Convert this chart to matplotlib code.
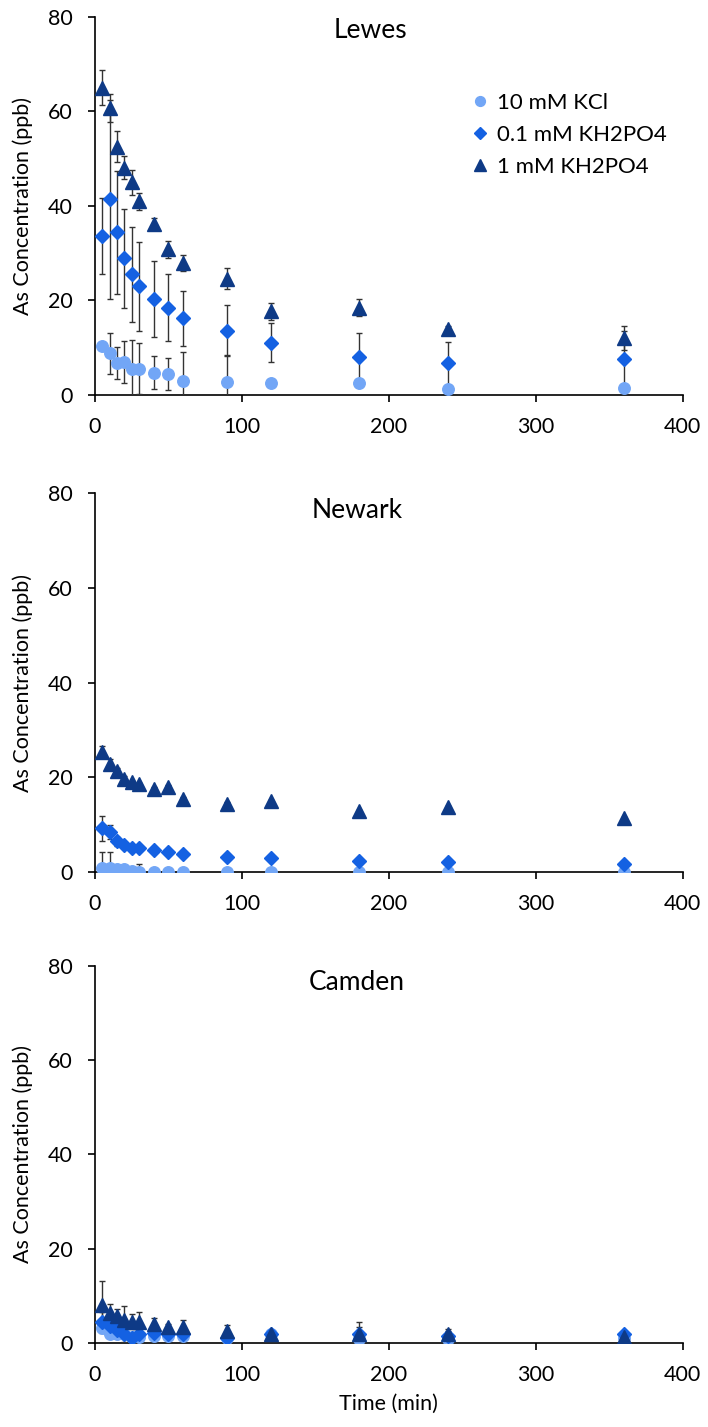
import matplotlib.pyplot as plt
from matplotlib.lines import Line2D
import numpy as np

plt.rcParams['font.family'] = ['Lato', 'DejaVu Sans']

time = [5, 10, 15, 20, 25, 30, 40, 50, 60, 90, 120, 180, 240, 360]
labels = ['10 mM KCl', '0.1 mM KH2PO4', '1 mM KH2PO4']
sites = ['Lewes', 'Newark', 'Camden']

# Lewes
lewes_kcl = [10.4, 8.8, 6.8, 7.0, 5.6, 5.6, 4.7, 4.4, 3.0, 2.7, 2.6, 2.5, 1.2, 1.5]
lewes_kcl_err = [0.5, 4.4, 3.4, 4.5, 6.0, 5.4, 3.5, 3.4, 6.2, 5.8, 0.3, 0.3, 0.3, 0.3]
lewes_p01 = [33.7, 41.4, 34.4, 28.9, 25.5, 23.0, 20.3, 18.5, 16.2, 13.6, 11.1, 8.1, 6.7, 7.6]
lewes_p01_err = [8.0, 21.0, 13.0, 10.4, 10.0, 9.4, 8.0, 7.0, 5.8, 5.4, 4.2, 5.0, 4.5, 6.0]
lewes_p1 = [65.0, 60.7, 52.5, 48.1, 45.0, 41.0, 36.2, 30.8, 28.0, 24.6, 17.7, 18.5, 14.0, 12.0]
lewes_p1_err = [3.7, 3.0, 3.3, 2.4, 2.6, 1.8, 1.3, 1.8, 1.7, 2.2, 1.8, 1.8, 0.5, 2.5]

# Newark
newark_kcl = [0.8, 0.8, 0.6, 0.6, 0.2, 0.1, 0.0, 0.0, 0.0, 0.0, 0.0, 0.0, 0.0, 0.0]
newark_kcl_err = [3.4, 3.4, 0.4, 0.6, 0.3, 1.6, 0.5, 0.5, 0.8, 0.5, 0.5, 0.2, 0.2, 0.2]
newark_p01 = [9.2, 8.4, 6.5, 5.8, 5.1, 5.0, 4.6, 4.2, 3.8, 3.2, 2.9, 2.3, 2.1, 1.7]
newark_p01_err = [2.6, 1.5, 1.0, 0.6, 0.4, 0.4, 0.3, 0.3, 0.3, 0.3, 0.3, 0.2, 0.2, 0.2]
newark_p1 = [25.3, 22.9, 21.3, 19.7, 18.9, 18.5, 17.6, 18.0, 15.5, 14.4, 15.0, 12.8, 13.7, 11.4]
newark_p1_err = [1.3, 1.0, 0.6, 0.6, 0.4, 0.3, 0.3, 0.3, 0.3, 0.3, 0.3, 0.3, 0.3, 0.3]

# Camden
camden_kcl = [3.2, 2.0, 1.8, 2.0, 1.3, 1.3, 1.5, 1.5, 1.5, 1.0, 1.8, 0.8, 0.8, 1.0]
camden_kcl_err = [1.0, 0.8, 0.8, 0.8, 0.6, 0.6, 0.5, 0.5, 0.5, 0.5, 0.5, 0.5, 0.5, 0.5]
camden_p01 = [4.5, 3.5, 2.8, 1.8, 1.0, 2.0, 2.2, 2.0, 1.8, 1.0, 1.8, 1.8, 1.5, 1.8]
camden_p01_err = [2.0, 1.5, 1.5, 1.5, 1.0, 1.0, 1.0, 1.0, 1.0, 1.0, 0.5, 1.5, 1.0, 0.5]
camden_p1 = [8.1, 6.3, 5.7, 4.9, 4.5, 4.5, 4.0, 3.4, 3.4, 2.6, 2.0, 2.0, 2.0, 1.3]
camden_p1_err = [5.0, 2.0, 1.5, 3.0, 1.6, 2.0, 1.4, 0.7, 1.5, 1.2, 0.5, 2.5, 1.0, 0.5]

data = {
    'Lewes': [(lewes_kcl, lewes_kcl_err), (lewes_p01, lewes_p01_err), (lewes_p1, lewes_p1_err)],
    'Newark': [(newark_kcl, newark_kcl_err), (newark_p01, newark_p01_err), (newark_p1, newark_p1_err)],
    'Camden': [(camden_kcl, camden_kcl_err), (camden_p01, camden_p01_err), (camden_p1, camden_p1_err)],
}

colors = ['#72A6F6', '#1461E2', '#0E3A86']
markers = ['o', 'D', '^']
msizes = [8.3, 7.3, 9.5]

fig = plt.figure(figsize=(7.08, 14.27), dpi=100)
positions = [[0.134, 0.7232, 0.8305, 0.265],
             [0.134, 0.3889, 0.8305, 0.2656],
             [0.134, 0.0589, 0.8305, 0.2642]]
title_pos = [(0.468, 0.944), (0.446, 0.934), (0.446, 0.936)]

for i, site in enumerate(sites):
    ax = fig.add_axes(positions[i])
    for j, (vals, err) in enumerate(data[site]):
        ax.errorbar(time, vals, yerr=err, fmt=markers[j], color=colors[j],
                    ms=msizes[j], ecolor='#333333', elinewidth=1,
                    capsize=2.3, capthick=1, zorder=3)
    ax.set_xlim(0, 400)
    ax.set_ylim(0, 80)
    ax.set_xticks([0, 100, 200, 300, 400])
    ax.set_yticks([0, 20, 40, 60, 80])
    ax.spines['top'].set_visible(False)
    ax.spines['right'].set_visible(False)
    ax.spines['left'].set_linewidth(1.2)
    ax.spines['bottom'].set_linewidth(1.2)
    ax.tick_params(labelsize=15.5, direction='out', length=5, width=1.2)
    ax.tick_params(axis='x', pad=11)
    ax.tick_params(axis='y', pad=11)
    ax.set_ylabel('As Concentration (ppb)', fontsize=15.5)
    ax.yaxis.set_label_coords(-0.105, 0.5)
    ax.text(title_pos[i][0], title_pos[i][1], site, transform=ax.transAxes,
            ha='center', va='baseline', fontsize=19)
    if i == 0:
        handles = [Line2D([], [], ls='none', marker=markers[k], color=colors[k],
                          ms=msizes[k]) for k in range(3)]
        ax.legend(handles, labels, loc='center left', bbox_to_anchor=(0.636, 0.688),
                  frameon=False, fontsize=16, handlelength=1.0, handletextpad=0.25,
                  labelspacing=0.55, borderpad=0, borderaxespad=0, markerscale=0.85)
    if i == 2:
        ax.set_xlabel('Time (min)', fontsize=15.5, labelpad=6)

fig.savefig('out.png', dpi=100)
